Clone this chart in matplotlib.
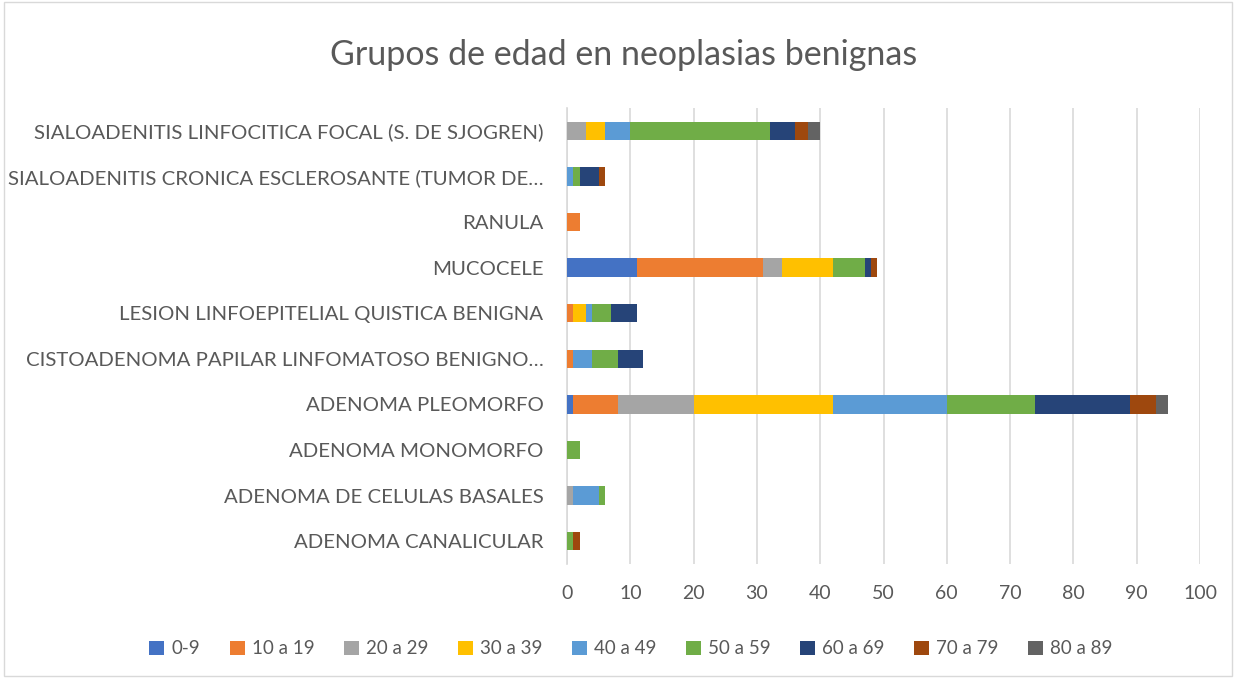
import matplotlib
matplotlib.use("Agg")
import matplotlib.pyplot as plt
import numpy as np

plt.rcParams['font.family'] = ['Lato', 'DejaVu Sans']

categories = [
    "ADENOMA CANALICULAR",
    "ADENOMA DE CELULAS BASALES",
    "ADENOMA MONOMORFO",
    "ADENOMA PLEOMORFO",
    "CISTOADENOMA PAPILAR LINFOMATOSO BENIGNO…",
    "LESION LINFOEPITELIAL QUISTICA BENIGNA",
    "MUCOCELE",
    "RANULA",
    "SIALOADENITIS CRONICA ESCLEROSANTE (TUMOR DE…",
    "SIALOADENITIS LINFOCITICA FOCAL (S. DE SJOGREN)",
]
series_names = ["0-9", "10 a 19", "20 a 29", "30 a 39", "40 a 49",
                "50 a 59", "60 a 69", "70 a 79", "80 a 89"]
s_0_9   = [0, 0, 0, 1, 0, 0, 11, 0, 0, 0]
s_10_19 = [0, 0, 0, 7, 1, 1, 20, 2, 0, 0]
s_20_29 = [0, 1, 0, 12, 0, 0, 3, 0, 0, 3]
s_30_39 = [0, 0, 0, 22, 0, 2, 8, 0, 0, 3]
s_40_49 = [0, 4, 0, 18, 3, 1, 0, 0, 1, 4]
s_50_59 = [1, 1, 2, 14, 4, 3, 5, 0, 1, 22]
s_60_69 = [0, 0, 0, 15, 4, 4, 1, 0, 3, 4]
s_70_79 = [1, 0, 0, 4, 0, 0, 1, 0, 1, 2]
s_80_89 = [0, 0, 0, 2, 0, 0, 0, 0, 0, 2]
series = [s_0_9, s_10_19, s_20_29, s_30_39, s_40_49, s_50_59, s_60_69, s_70_79, s_80_89]
colors = ["#4472C4", "#ED7D31", "#A5A5A5", "#FFC000", "#5B9BD5",
          "#70AD47", "#264478", "#9E480E", "#636363"]

fig = plt.figure(figsize=(12.36, 6.78), dpi=100)
ax = fig.add_axes([567/1236, 1 - 564/678, (1200-567)/1236, (564-108)/678])

y = np.arange(len(categories))
left = np.zeros(len(categories))
for name, vals, c in zip(series_names, series, colors):
    v = np.array(vals, dtype=float)
    ax.barh(y, v, left=left, height=0.4, color=c, label=name, zorder=3)
    left += v

ax.set_xlim(0, 100)
ax.set_ylim(-0.5, len(categories) - 0.5)
ax.set_xticks(np.arange(0, 101, 10))
ax.set_yticks(y)
ax.set_yticklabels(categories)
ax.grid(axis='x', color='#D9D9D9', linewidth=1.2, zorder=0)
for s in ['top', 'right', 'bottom']:
    ax.spines[s].set_visible(False)
ax.spines['left'].set_color('#D9D9D9')
ax.spines['left'].set_linewidth(1.2)
ax.tick_params(axis='both', length=0, labelcolor='#595959')
ax.tick_params(axis='y', pad=17, labelsize=14.7)
ax.tick_params(axis='x', pad=15, labelsize=14)

fig.text(0.5 + 6/1236, 1 - 55/678, "Grupos de edad en neoplasias benignas",
         ha='center', va='center', fontsize=24.5, color='#595959')

handles, labels = ax.get_legend_handles_labels()
fig.legend(handles, labels, loc='center', bbox_to_anchor=(0.5 + 13/1236, 1 - 649/678),
           ncol=9, frameon=False, fontsize=13.5, labelcolor='#595959',
           handlelength=0.8, handleheight=0.8, handletextpad=0.4, columnspacing=1.55)

border = plt.Rectangle((0.003, 0.003), 0.994, 0.994, transform=fig.transFigure,
                       fill=False, edgecolor='#D9D9D9', linewidth=1)
fig.add_artist(border)

fig.savefig("out.png", dpi=100)
